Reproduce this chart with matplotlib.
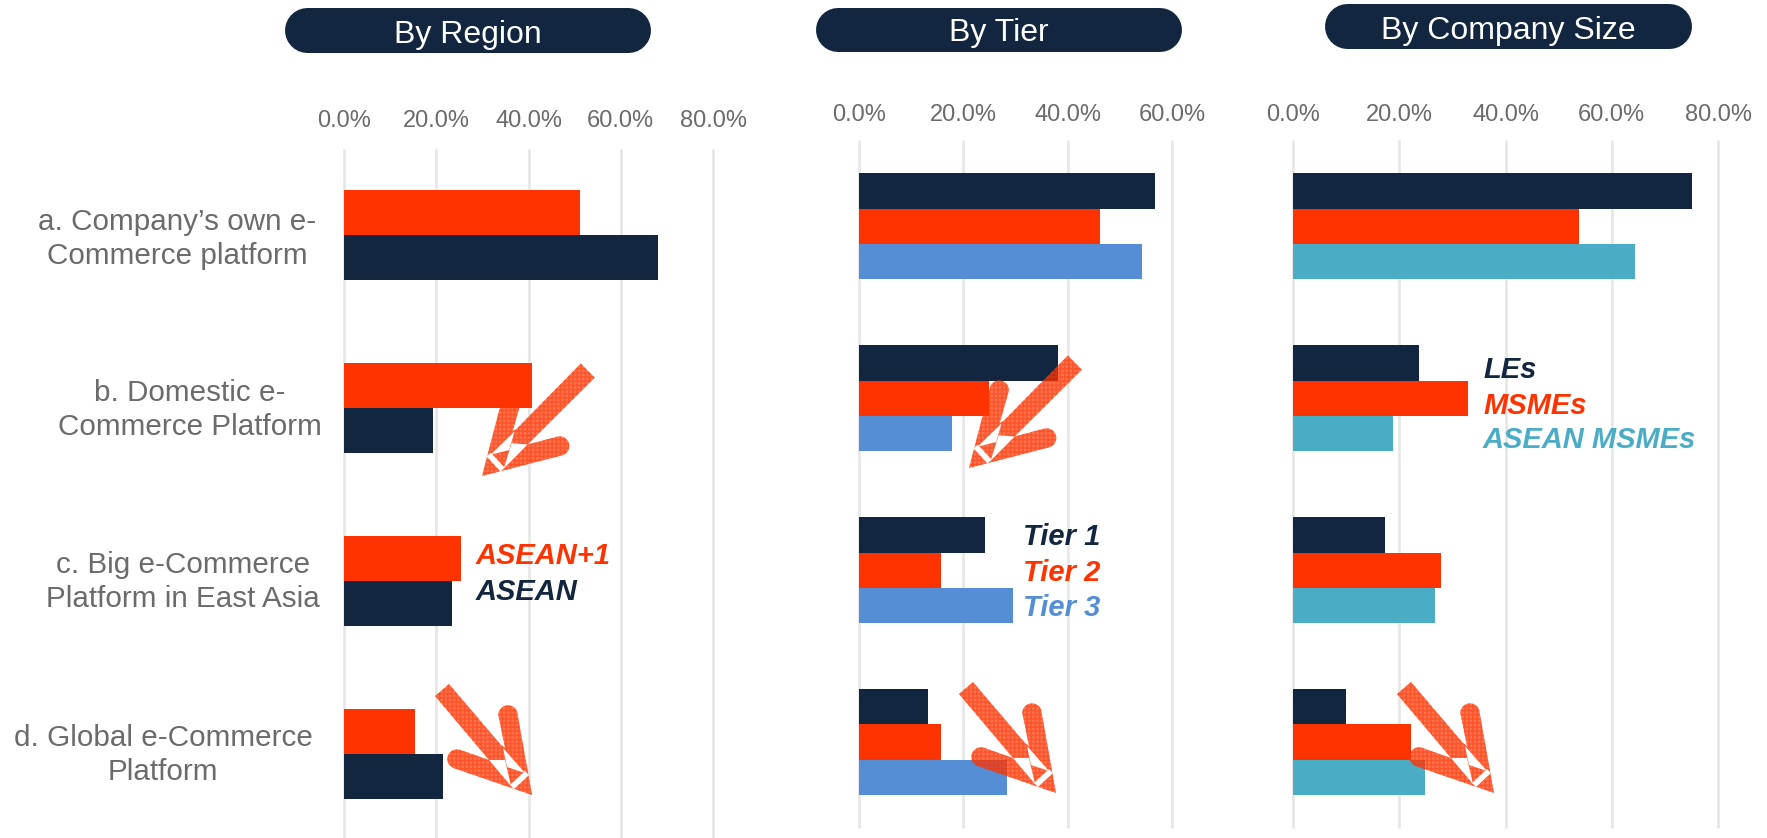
import numpy as np
import matplotlib
matplotlib.use('Agg')
from matplotlib import pyplot as plt
from matplotlib.patches import Polygon

plt.rcParams['font.family'] = ['Liberation Sans', 'DejaVu Sans']
plt.rcParams['hatch.linewidth'] = 1.1

W = 1767
H = 838

NAVY = '#12263f'
RED = '#ff3300'
BLUE = '#558ed5'
TEAL = '#4bacc6'
GREY = '#6b6b6b'

categories = ["a. Company\u2019s own e-\nCommerce platform",
              "b. Domestic e-\nCommerce Platform",
              "c. Big e-Commerce\nPlatform in East Asia",
              "d. Global e-Commerce\nPlatform"]

region_names = ['ASEAN+1', 'ASEAN']
region_vals = [[51.1, 40.8, 25.4, 15.4],
               [68.0, 19.3, 23.5, 21.5]]

tier_names = ['Tier 1', 'Tier 2', 'Tier 3']
tier_vals = [[56.7, 38.2, 24.2, 13.2],
             [46.2, 25.0, 15.7, 15.7],
             [54.2, 17.9, 29.6, 28.3]]

size_names = ['LEs', 'MSMEs', 'ASEAN MSMEs']
size_vals = [[75.1, 23.7, 17.4, 9.9],
             [53.8, 33.0, 27.9, 22.2],
             [64.3, 18.8, 26.7, 24.8]]

region_ticks = [0, 20, 40, 60, 80]
tier_ticks = [0, 20, 40, 60]
size_ticks = [0, 20, 40, 60, 80]

fig = plt.figure(figsize=(W/100, H/100), dpi=100)
fig.patch.set_facecolor('white')


def panel(box, ticks, names, vals, colors, bar_h, pad):
	x0, x1, y0, y1 = box
	ax = fig.add_axes([x0/W, 1-y1/H, (x1-x0)/W, (y1-y0)/H])
	n = len(names)
	rows = np.arange(len(vals[0]))
	for i in range(n):
		ax.barh(rows+(i-(n-1)/2)*bar_h, vals[i], bar_h, color=colors[i], zorder=3)
	ax.set_xlim(ticks[0], ticks[-1])
	ax.set_ylim(3.5, -0.5)
	ax.set_yticks([])
	ax.set_xticks(ticks, labels=['%.1f%%' % t for t in ticks])
	ax.xaxis.tick_top()
	ax.tick_params(axis='x', length=0, pad=pad, labelsize=17, labelcolor=GREY)
	ax.grid(axis='x', color='#e6e6e6', lw=1.9, zorder=0)
	for g in ax.get_xgridlines():
		g.set_clip_on(False)
		g.set_solid_capstyle('butt')
	for s in ax.spines.values():
		s.set_visible(False)
	ax.patch.set_alpha(0)
	return ax


panel((344, 713, 149, 840), region_ticks, region_names, region_vals, [RED, NAVY], 0.2605, 12.3)
panel((859, 1172, 140.5, 828), tier_ticks, tier_names, tier_vals, [NAVY, RED, BLUE], 0.2055, 10.6)
panel((1293, 1718, 140.5, 828), size_ticks, size_names, size_vals, [NAVY, RED, TEAL], 0.2055, 10.6)

# overlay in pixel coordinates for pills, labels and arrows
ov = fig.add_axes([0, 0, 1, 1], zorder=10)
ov.set_xlim(0, W)
ov.set_ylim(H, 0)
ov.axis('off')


def arc(cx, cy, r, a0, a1):
	t = np.radians(np.linspace(a0, a1, 16))
	return [(cx+r*np.cos(v), cy+r*np.sin(v)) for v in t]


pills = [(285, 651, 8, 53, 'By Region', 4),
         (816, 1182, 8, 52, 'By Tier', 3),
         (1325, 1692, 4, 49, 'By Company Size', 5)]
for a, b, c, d, label, dy in pills:
	r = (d-c)/2
	pts = arc(a+r, c+r, r, 90, 270) + arc(b-r, c+r, r, -90, 90)
	ov.add_patch(Polygon(pts, closed=True, fc=NAVY, ec='none'))
	ov.text((a+b)/2, (c+d)/2+dy, label, color='white', fontsize=23, ha='center', va='center')

label_pos = [(177, 239), (190, 410), (183, 582), (163, 755)]
for (cx, cy), label in zip(label_pos, categories):
	ov.text(cx, cy, label, color=GREY, fontsize=21.3, ha='center', va='center', ma='center', linespacing=1.25)

legend_pos = [(476, [556, 592], region_names, [RED, NAVY]),
              (1023, [537, 573, 608], tier_names, [NAVY, RED, BLUE]),
              (1483, [370, 406, 440], size_names, [NAVY, RED, TEAL])]
for lx, ly, names, cols in legend_pos:
	for y, name, c in zip(ly, names, cols):
		ov.text(lx, y, name, color=c, fontsize=21, fontweight='bold', fontstyle='italic', ha='left', va='center')

# arrow outline relative to its tip, pointing down right
shaft_end = [(-83, -111), (-97, -99)]
outline = [(0, 0)] + arc(-24, -80, 9.7, 0, -180) + [(-27, -47), (-31, -50)] + shaft_end + [(-43, -35)] \
	+ arc(-75, -36, 9.7, -70, -250)
holes = [[(-43, -35), (-27, -35), (-21, -9)],
         [(-7, -22), (-29, -47), (-25, -28)],
         [(-7, -24), (-3, -20), (-18, -6), (-22, -10)]]


def place(pts, tip, left):
	out = []
	for p in pts:
		x, y = p
		if left:
			k = 1.08 if p in shaft_end else 1.0
			a = np.radians(4.5)
			x = -x
			x, y = k*(x*np.cos(a)-y*np.sin(a)), k*(x*np.sin(a)+y*np.cos(a))
		out.append((tip[0]+x, tip[1]+y))
	return out


arrows = [((482, 476), True), ((969, 468), True),
          ((532, 795), False), ((1056, 793), False), ((1494, 793), False)]
for tip, left in arrows:
	ov.add_patch(Polygon(place(outline, tip, left), closed=True, fc=(1, 0.2, 0, 0.68),
		ec=(1, 0.2, 0, 0.5), lw=0, hatch='++++'))
	for h in holes:
		ov.add_patch(Polygon(place(h, tip, left), closed=True, fc='white', ec='none'))

fig.savefig('out.png', dpi=100)
